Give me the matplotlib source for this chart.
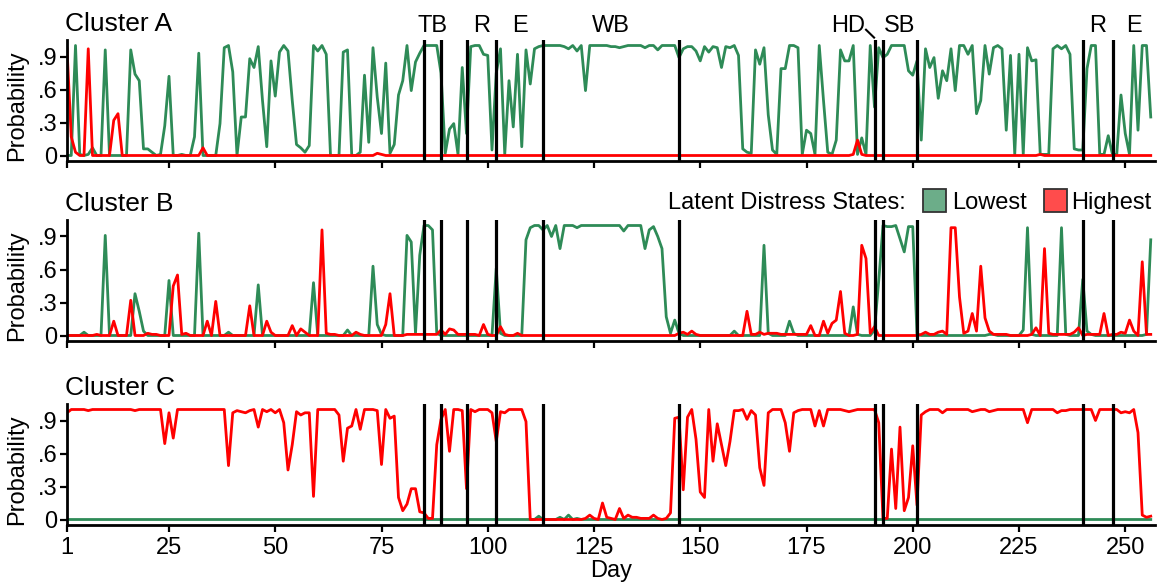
import numpy as np
import matplotlib
matplotlib.use('Agg')
import matplotlib.pyplot as plt
import matplotlib.transforms as mtransforms
from matplotlib.patches import Rectangle

plt.rcParams['font.family'] = ['Liberation Sans', 'DejaVu Sans']

days = np.arange(1, 257)
event_days = [85, 89, 95, 102, 113, 145, 191, 193, 201, 240, 247]
event_labels = ['TB', 'R', 'E', 'WB', 'SB', 'R', 'E']
event_label_x = [87, 98.5, 107.5, 129, 197, 243.5, 252]
hd_label = 'HD'
hd_label_x = 184.9
xtick_vals = [1, 25, 50, 75, 100, 125, 150, 175, 200, 225, 250]
ytick_vals = [0, 0.3, 0.6, 0.9]
ytick_labels = ['0', '.3', '.6', '.9']
panel_titles = ['Cluster A', 'Cluster B', 'Cluster C']
legend_labels = ['Lowest', 'Highest']

lowest_A = [
    0, 0, 1.0, 0.01, 0, 0.01, 0.07, 0, 0, 0.96,
    0, 0, 0, 0, 0, 0.96, 0.74, 0.68, 0.06, 0.06,
    0.03, 0, 0.01, 0.27, 0.72, 0, 0, 0.01, 0, 0,
    0.17, 0.93, 0, 0, 0, 0, 0.29, 0.98, 1.0, 0.76,
    0, 0.35, 0.35, 0.88, 0.8, 0.99, 0.5, 0.08, 0.86, 0.54,
    0.94, 1.0, 0.95, 0.5, 0.1, 0.07, 0.03, 0.09, 1.0, 0.95,
    1.0, 0.92, 0, 0, 0, 0.94, 0.96, 0, 0, 0.03,
    0.73, 0.12, 0.98, 0.53, 0.2, 0.84, 0.02, 0.1, 0.55, 0.68,
    1.0, 0.59, 0.85, 0.93, 1.0, 1.0, 1.0, 1.0, 0.75, 0.02,
    0.24, 0.29, 0.01, 0.8, 0.2, 0.99, 1.0, 1.0, 0.92, 0.91,
    0.05, 0.75, 0.97, 0.01, 0.68, 0.26, 0.92, 0.08, 0.96, 0.65,
    0.97, 0.99, 1.0, 1.0, 1.0, 1.0, 1.0, 0.99, 0.97, 1.0,
    0.95, 1.0, 0.59, 1.0, 1.0, 1.0, 1.0, 1.0, 0.99, 0.99,
    0.98, 0.99, 1.0, 1.0, 1.0, 1.0, 0.98, 1.0, 1.0, 0.96,
    1.0, 1.0, 1.0, 1.0, 0.89, 0.97, 0.99, 0.99, 0.95, 0.86,
    0.99, 0.94, 0.99, 0.98, 0.8, 0.99, 0.98, 1.0, 0.91, 0.06,
    0.03, 0.02, 0.96, 0.83, 0.98, 0.37, 0.05, 0.01, 0.79, 0.79,
    1.0, 1.0, 0.98, 0.01, 0.23, 0.2, 0.01, 1.0, 0.5, 0.03,
    0.01, 0.14, 0.96, 0.86, 0.86, 1.0, 0.01, 0.16, 0.01, 1.0,
    0.44, 0.98, 0.89, 0.92, 1.0, 1.0, 1.0, 1.0, 0.77, 0.73,
    0.86, 0.14, 0.97, 0.8, 0.89, 0.52, 0.77, 0.68, 0.97, 0.59,
    1.0, 1.0, 0.92, 1.0, 0.38, 0.5, 1.0, 0.74, 0.98, 1.0,
    0.97, 0.23, 0.91, 0.01, 0.92, 0.01, 0.98, 0.86, 0.87, 0.01,
    0.01, 0.01, 0.97, 1.0, 0.97, 1.0, 0.92, 0.06, 0.05, 0.05,
    0.79, 1.0, 1.0, 0.01, 0.01, 0.18, 0.01, 0.01, 0.55, 0.2,
    0.01, 1.0, 0.23, 1.0, 1.0, 0.35,
]

highest_A = [
    0.97, 0.17, 0.03, 0, 0, 0.97, 0, 0, 0, 0,
    0, 0.32, 0.38, 0, 0, 0, 0, 0, 0, 0,
    0, 0, 0, 0, 0, 0, 0, 0, 0, 0,
    0, 0, 0.07, 0, 0, 0, 0, 0, 0, 0,
    0, 0, 0, 0, 0, 0, 0, 0, 0, 0,
    0, 0, 0, 0, 0, 0, 0, 0, 0, 0,
    0, 0, 0, 0, 0, 0, 0, 0, 0, 0,
    0, 0, 0, 0.02, 0.01, 0, 0, 0, 0, 0,
    0, 0, 0, 0, 0, 0, 0, 0, 0, 0,
    0, 0, 0, 0, 0, 0, 0, 0, 0, 0,
    0, 0, 0, 0, 0, 0, 0, 0, 0, 0,
    0, 0, 0, 0, 0, 0, 0, 0, 0, 0,
    0, 0, 0, 0, 0, 0, 0, 0, 0, 0,
    0, 0, 0, 0, 0, 0, 0, 0, 0, 0,
    0, 0, 0, 0, 0, 0, 0, 0, 0, 0,
    0, 0, 0, 0, 0, 0, 0, 0, 0, 0,
    0, 0, 0, 0, 0, 0, 0, 0, 0, 0,
    0, 0, 0, 0, 0, 0, 0, 0, 0, 0,
    0, 0, 0, 0, 0, 0.01, 0.14, 0.01, 0, 0,
    0, 0, 0, 0, 0, 0, 0, 0, 0, 0,
    0, 0, 0, 0, 0, 0, 0, 0, 0, 0,
    0, 0, 0, 0, 0, 0, 0, 0, 0, 0,
    0, 0, 0, 0, 0, 0, 0, 0, 0, 0.01,
    0, 0, 0, 0, 0, 0, 0, 0, 0, 0,
    0, 0, 0, 0, 0, 0, 0, 0, 0, 0,
    0, 0, 0, 0, 0, 0,
]

lowest_B = [
    0, 0, 0, 0, 0.03, 0, 0, 0, 0, 0.91,
    0, 0, 0, 0, 0, 0, 0.38, 0.22, 0.04, 0,
    0, 0, 0, 0, 0.5, 0, 0, 0, 0, 0,
    0, 0.93, 0, 0, 0, 0, 0, 0, 0.03, 0,
    0, 0, 0, 0, 0, 0.46, 0, 0, 0, 0,
    0, 0, 0, 0, 0, 0, 0, 0, 0.48, 0,
    0, 0, 0, 0, 0, 0, 0.05, 0, 0, 0,
    0, 0, 0.63, 0.1, 0.01, 0, 0, 0, 0, 0,
    0.91, 0.85, 0.02, 0.73, 1.0, 1.0, 0.96, 0.02, 0, 0,
    0, 0, 0, 0, 0, 0, 0, 0, 0, 0,
    0, 0.61, 0.02, 0, 0, 0, 0, 0, 0.87, 0.98,
    1.0, 1.0, 0.96, 1.0, 0.9, 1.0, 0.79, 1.0, 1.0, 1.0,
    0.98, 1.0, 1.0, 1.0, 1.0, 1.0, 1.0, 1.0, 1.0, 1.0,
    1.0, 0.95, 1.0, 1.0, 1.0, 1.0, 0.79, 0.96, 0.99, 0.9,
    0.79, 0.17, 0.02, 0.14, 0.02, 0, 0, 0, 0, 0,
    0, 0, 0, 0, 0, 0, 0, 0.04, 0, 0,
    0, 0, 0, 0, 0.82, 0.02, 0, 0, 0, 0,
    0.13, 0.02, 0, 0, 0, 0, 0, 0, 0, 0,
    0, 0, 0, 0, 0, 0.26, 0.01, 0, 0, 0,
    0.05, 0.5, 1.0, 0.99, 0.99, 1.0, 0.88, 0.76, 0.99, 0.99,
    0.01, 0, 0, 0, 0, 0, 0, 0, 0, 0,
    0, 0, 0, 0, 0, 0, 0, 0.01, 0.01, 0,
    0, 0, 0, 0, 0, 0.05, 0.98, 0.01, 0, 0,
    0, 0, 0, 0, 0.98, 0.01, 0, 0, 0, 0.51,
    0.04, 0.01, 0, 0, 0, 0, 0, 0, 0, 0,
    0, 0, 0, 0, 0.01, 0.87,
]

highest_B = [
    0, 0, 0, 0, 0, 0, 0, 0.01, 0, 0,
    0, 0.13, 0, 0, 0, 0.32, 0, 0, 0, 0.02,
    0.01, 0.01, 0, 0, 0, 0.45, 0.55, 0.01, 0.02, 0,
    0, 0, 0, 0.13, 0, 0.31, 0, 0, 0, 0,
    0, 0, 0, 0.27, 0, 0, 0, 0.13, 0.03, 0,
    0, 0, 0, 0.09, 0, 0.06, 0.03, 0, 0, 0,
    0.96, 0.02, 0.01, 0.01, 0, 0, 0, 0, 0.03, 0.01,
    0, 0, 0, 0, 0, 0.1, 0.38, 0, 0, 0,
    0.01, 0.01, 0.01, 0.01, 0.01, 0.01, 0.01, 0.01, 0.05, 0.01,
    0.06, 0.05, 0.01, 0.01, 0.01, 0.01, 0.01, 0, 0.1, 0.01,
    0, 0, 0.08, 0.01, 0, 0, 0.02, 0, 0, 0,
    0, 0, 0, 0, 0, 0, 0, 0, 0, 0,
    0, 0, 0, 0, 0, 0, 0, 0, 0, 0,
    0, 0, 0, 0, 0, 0, 0, 0, 0, 0,
    0, 0, 0, 0, 0.02, 0.03, 0.01, 0.04, 0.01, 0,
    0, 0, 0, 0, 0, 0, 0, 0, 0, 0,
    0.22, 0.01, 0.01, 0.03, 0.01, 0.02, 0.02, 0.02, 0.01, 0.01,
    0.01, 0.01, 0.01, 0.01, 0.01, 0.09, 0, 0, 0.13, 0.02,
    0.11, 0.14, 0.4, 0.02, 0, 0, 0.01, 0.82, 0.7, 0.02,
    0.08, 0, 0, 0, 0, 0, 0, 0, 0, 0,
    0, 0.01, 0.03, 0.01, 0.01, 0.03, 0.04, 0.01, 0.98, 0.98,
    0.35, 0.02, 0.04, 0.2, 0.04, 0.63, 0.16, 0.04, 0.01, 0.01,
    0.01, 0.01, 0, 0, 0, 0, 0, 0.01, 0.07, 0,
    0.79, 0.02, 0.01, 0.01, 0.01, 0.01, 0.01, 0.03, 0.07, 0,
    0.01, 0.01, 0.01, 0.01, 0.2, 0, 0.01, 0.01, 0.03, 0.02,
    0.14, 0.04, 0, 0.67, 0.01, 0.01,
]

lowest_C = [0.0] * 111 + [0.03, 0, 0, 0, 0, 0.02, 0, 0.04, 0, 0.01] + [0.0] * 135

highest_C = [
    0.97, 1.0, 1.0, 1.0, 1.0, 0.99, 1.0, 1.0, 1.0, 1.0,
    1.0, 1.0, 1.0, 1.0, 1.0, 1.0, 0.99, 1.0, 1.0, 1.0,
    1.0, 1.0, 1.0, 0.69, 0.97, 0.74, 1.0, 1.0, 1.0, 1.0,
    1.0, 1.0, 1.0, 1.0, 1.0, 1.0, 1.0, 1.0, 0.49, 0.97,
    0.99, 0.98, 0.97, 0.99, 1.0, 0.84, 1.0, 0.98, 1.0, 0.97,
    1.0, 0.88, 0.45, 0.68, 0.98, 0.95, 0.97, 0.97, 0.21, 1.0,
    1.0, 1.0, 1.0, 1.0, 0.95, 0.53, 0.83, 0.85, 1.0, 0.82,
    1.0, 1.0, 1.0, 0.99, 0.5, 1.0, 0.92, 0.94, 0.2, 0.08,
    0.14, 0.28, 0.28, 0.07, 0.06, 0.01, 0.01, 0.68, 0.91, 1.0,
    0.62, 1.0, 1.0, 0.99, 0.28, 1.0, 0.98, 1.0, 1.0, 1.0,
    0.97, 0.71, 0.98, 0.97, 1.0, 1.0, 1.0, 1.0, 0.89, 0.0,
    0, 0, 0, 0, 0, 0, 0, 0, 0, 0,
    0, 0, 0.01, 0.04, 0.01, 0, 0.15, 0.02, 0.01, 0,
    0.1, 0.01, 0.04, 0.02, 0.02, 0.01, 0.01, 0.01, 0.04, 0.01,
    0, 0.01, 0.06, 0.92, 0.93, 0.27, 0.93, 1.0, 0.73, 0.25,
    0.2, 1.0, 0.53, 0.87, 0.68, 0.49, 0.71, 0.99, 0.99, 1.0,
    0.91, 0.99, 0.95, 0.47, 0.31, 0.97, 1.0, 1.0, 1.0, 0.88,
    0.62, 0.97, 0.99, 1.0, 1.0, 1.0, 0.85, 0.99, 0.85, 1.0,
    1.0, 1.0, 1.0, 0.99, 0.98, 0.99, 1.0, 1.0, 1.0, 1.0,
    1.0, 0.88, 0.01, 0.01, 0.64, 0.1, 0.84, 0.08, 0.2, 0.67,
    0.13, 0.95, 0.98, 1.0, 1.0, 1.0, 0.97, 1.0, 1.0, 1.0,
    1.0, 1.0, 1.0, 0.98, 0.99, 1.0, 1.0, 0.98, 0.99, 1.0,
    1.0, 1.0, 1.0, 1.0, 1.0, 1.0, 0.88, 1.0, 1.0, 1.0,
    1.0, 1.0, 1.0, 0.97, 0.99, 0.99, 1.0, 1.0, 1.0, 1.0,
    1.0, 1.0, 0.9, 1.0, 1.0, 1.0, 1.0, 1.0, 0.97, 0.98,
    0.97, 1.0, 0.79, 0.04, 0.02, 0.03,
]

GREEN = '#2E8B57'
RED = '#FF0000'
FS = 17

W, H = 1159, 588
fig = plt.figure(figsize=(W / 100, H / 100), dpi=100)

ax_left = 67 / W
ax_width = 1088 / W
ax_h = 121 / H
bottoms_px = [161, 341, 525]

series = [(lowest_A, highest_A), (lowest_B, highest_B), (lowest_C, highest_C)]
axes = []
for i, (low, high) in enumerate(series):
    ax = fig.add_axes([ax_left, 1 - bottoms_px[i] / H, ax_width, ax_h])
    axes.append(ax)
    ax.plot(days, low, color=GREEN, lw=2.0, zorder=2)
    ax.plot(days, high, color=RED, lw=2.0, zorder=2.5)
    for d in event_days:
        ax.axvline(d, color='black', lw=2.3, zorder=3)
    ax.set_xlim(1, 257)
    ax.set_ylim(-0.05, 1.05)
    ax.set_yticks(ytick_vals)
    ax.set_yticklabels(ytick_labels, fontsize=FS)
    ax.set_xticks(xtick_vals)
    if i < 2:
        ax.set_xticklabels([])
    else:
        ax.set_xticklabels([str(v) for v in xtick_vals], fontsize=FS)
        ax.set_xlabel('Day', fontsize=FS, labelpad=0)
    for s in ['top', 'right']:
        ax.spines[s].set_visible(False)
    for s in ['left', 'bottom']:
        ax.spines[s].set_linewidth(2.0)
    ax.tick_params(axis='both', width=1.6, length=5, direction='out')
    ax.tick_params(axis='x', pad=4)
    ax.tick_params(axis='y', pad=2)
    ax.set_ylabel('Probability', fontsize=FS)
    ax.yaxis.set_label_coords(-0.036, 0.46)
    ax.text(-0.002, 1.078, panel_titles[i], transform=ax.transAxes,
            ha='left', va='baseline', fontsize=FS + 2)

# event labels on top panel
axA = axes[0]
trans = mtransforms.blended_transform_factory(axA.transData, axA.transAxes)
for lab, x in zip(event_labels, event_label_x):
    axA.text(x, 1.07, lab, transform=trans, ha='center', va='baseline',
             fontsize=FS, clip_on=False)
axA.text(hd_label_x, 1.07, hd_label, transform=trans, ha='center',
         va='baseline', fontsize=FS, clip_on=False)
axA.plot([189.0, 190.9], [1.085, 1.02], transform=trans, color='black',
         lw=1.5, clip_on=False)

# legend on panel B
fig.text(668 / W, 1 - 203 / H, 'Latent Distress States:', ha='left',
         va='center', fontsize=FS)
box_specs = [(923, GREEN, 952), (1044, RED, 1071)]
for (bx, col, tx), lab in zip(box_specs, legend_labels):
    fig.add_artist(Rectangle((bx / W, 1 - 212 / H), 23 / W, 23 / H,
                             transform=fig.transFigure, facecolor=col,
                             alpha=0.7, edgecolor='none'))
    fig.add_artist(Rectangle((bx / W, 1 - 212 / H), 23 / W, 23 / H,
                             transform=fig.transFigure, facecolor='none',
                             edgecolor='#333333', lw=1.3))
    fig.text(tx / W, 1 - 203 / H, lab, ha='left', va='center', fontsize=FS)

fig.savefig('out.png', dpi=100)
